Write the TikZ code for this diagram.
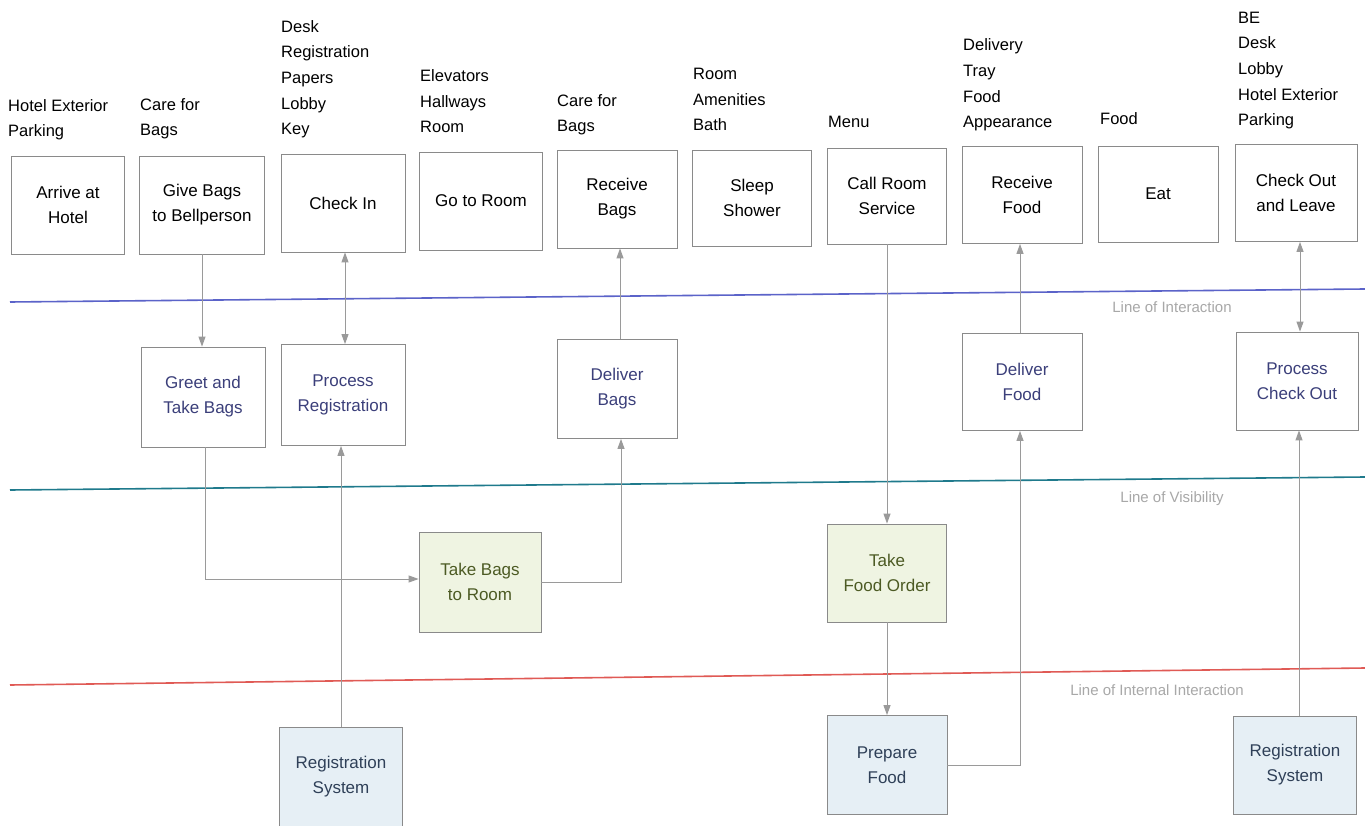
\documentclass[tikz,border=0pt]{standalone}
\usepackage{fontspec}
\setmainfont{Liberation Sans}
\usetikzlibrary{arrows.meta}
\definecolor{boxgray}{HTML}{8A8A8A}
\definecolor{conngray}{HTML}{9A9A9A}
\definecolor{intblue}{HTML}{5B63C9}
\definecolor{visteal}{HTML}{1F7A8C}
\definecolor{intred}{HTML}{E05A55}
\definecolor{linelabel}{HTML}{A8A8A8}
\definecolor{rowtwo}{HTML}{3B3F7A}
\definecolor{rowthree}{HTML}{4C5A23}
\definecolor{rowfour}{HTML}{2F4058}
\definecolor{greenfill}{HTML}{EFF4E2}
\definecolor{bluefill}{HTML}{E6EFF5}
\begin{document}
\begin{tikzpicture}[x=1pt,y=-1pt,
  box/.style={draw=boxgray, line width=0.8pt, minimum width=122pt, minimum height=98pt,
    align=center, inner sep=0pt, font=\fontsize{17}{25}\selectfont},
  frontbox/.style={box, text=black},
  backbox/.style={box, text=rowtwo},
  bellbox/.style={box, text=rowthree, fill=greenfill},
  supbox/.style={box, text=rowfour, fill=bluefill},
  evid/.style={anchor=south west, inner sep=0pt, align=left, text depth=0pt,
    font=\fontsize{16.5}{25.6}\selectfont},
  conn/.style={draw=conngray, line width=1pt, -{Triangle[length=10pt,width=7pt]}},
  biconn/.style={draw=conngray, line width=1pt, {Triangle[length=10pt,width=7pt]}-{Triangle[length=10pt,width=7pt]}},
  linelab/.style={text=linelabel, inner sep=0pt, font=\fontsize{15}{18}\selectfont}
]
\useasboundingbox (0,0) rectangle (1365,826);
\fill[white] (0,0) rectangle (1365,826);

% separating lines
\draw[intblue, line width=1.6pt] (10,302) -- (1365,289);
\draw[visteal, line width=1.6pt] (10,490) -- (1365,477);
\draw[intred, line width=1.6pt] (10,685) -- (1365,668);
\node[linelab] (loi) at (1172,307) {Line of Interaction};
\node[linelab] (lov) at (1172,499) {Line of Visibility};
\node[linelab] (lii) at (1157,690) {Line of Internal Interaction};

% physical evidence
\node[evid] (ev1) at (8,137) {Hotel Exterior\\Parking};
\node[evid] (ev2) at (140,136) {Care for\\Bags};
\node[evid] (ev3) at (281,135) {Desk\\Registration\\Papers\\Lobby\\Key};
\node[evid] (ev4) at (420,133) {Elevators\\Hallways\\Room};
\node[evid] (ev5) at (557,132) {Care for\\Bags};
\node[evid] (ev6) at (693,131) {Room\\Amenities\\Bath};
\node[evid] (ev7) at (828,128) {Menu};
\node[evid] (ev8) at (963,128) {Delivery\\Tray\\Food\\Appearance};
\node[evid] (ev9) at (1100,125) {Food};
\node[evid] (ev10) at (1238,126) {BE\\Desk\\Lobby\\Hotel Exterior\\Parking};

% customer actions
\node[frontbox, minimum width=113pt] (arrive) at (68,205) {Arrive at\\Hotel};
\node[frontbox, minimum width=125pt] (give) at (202,205) {Give Bags\\to Bellperson};
\node[frontbox, minimum width=124pt] (checkin) at (343,203) {Check In};
\node[frontbox, minimum width=123pt] (goroom) at (481,201) {Go to Room};
\node[frontbox, minimum width=120pt] (recbags) at (617,199) {Receive\\Bags};
\node[frontbox, minimum width=119pt, minimum height=96pt] (sleep) at (752,198) {Sleep\\Shower};
\node[frontbox, minimum width=119pt, minimum height=96pt] (callrs) at (887,196) {Call Room\\Service};
\node[frontbox, minimum width=120pt, minimum height=97pt] (recfood) at (1022,195) {Receive\\Food};
\node[frontbox, minimum width=120pt, minimum height=96pt] (eat) at (1158,194) {Eat};
\node[frontbox, minimum width=122pt, minimum height=97pt] (checkout) at (1296,193) {Check Out\\and Leave};

% onstage
\node[backbox, minimum width=124pt, minimum height=100pt] (greet) at (203,397) {Greet and\\Take Bags};
\node[backbox, minimum width=124pt, minimum height=101pt] (procreg) at (343,395) {Process\\Registration};
\node[backbox, minimum width=120pt, minimum height=99pt] (delbags) at (617,389) {Deliver\\Bags};
\node[backbox, minimum width=120pt, minimum height=97pt] (delfood) at (1022,382) {Deliver\\Food};
\node[backbox, minimum width=122pt, minimum height=98pt] (proccheck) at (1297,381) {Process\\Check Out};

% backstage
\node[bellbox, minimum width=122pt, minimum height=100pt] (takebags) at (480,582) {Take Bags\\to Room};
\node[bellbox, minimum width=119pt, minimum height=98pt] (takefood) at (887,573) {Take\\Food Order};

% support
\node[supbox, minimum width=123pt, minimum height=99pt] (regsysa) at (341,777) {Registration\\System};
\node[supbox, minimum width=120pt, minimum height=99pt] (prepare) at (887,765) {Prepare\\Food};
\node[supbox, minimum width=123pt, minimum height=98pt] (regsysb) at (1295,765) {Registration\\System};

% connectors
\draw[conn] (give.south) -- (give.south |- greet.north);
\draw[biconn] ([xshift=2pt]checkin.south) -- ([xshift=2pt]checkin.south |- procreg.north);
\draw[conn] ([xshift=2pt]greet.south) |- ([yshift=3pt]takebags.west);
\draw[conn] (takebags.east) -| ([xshift=4pt]delbags.south);
\draw[conn] ([xshift=3pt]delbags.north) -- ([xshift=3pt]delbags.north |- recbags.south);
\draw[conn] (callrs.south) -- (takefood.north);
\draw[conn] (takefood.south) -- (prepare.north);
\draw[conn] (prepare.east) -| ([xshift=-2pt]delfood.south);
\draw[conn] ([xshift=-2pt]delfood.north) -- ([xshift=-2pt]delfood.north |- recfood.south);
\draw[biconn] ([xshift=4pt]checkout.south) -- ([xshift=4pt]checkout.south |- proccheck.north);
\draw[conn] ([xshift=4pt]regsysb.north) -- ([xshift=4pt]regsysb.north |- proccheck.south);
\draw[conn] (regsysa.north) -- (regsysa.north |- procreg.south);
\end{tikzpicture}
\end{document}
